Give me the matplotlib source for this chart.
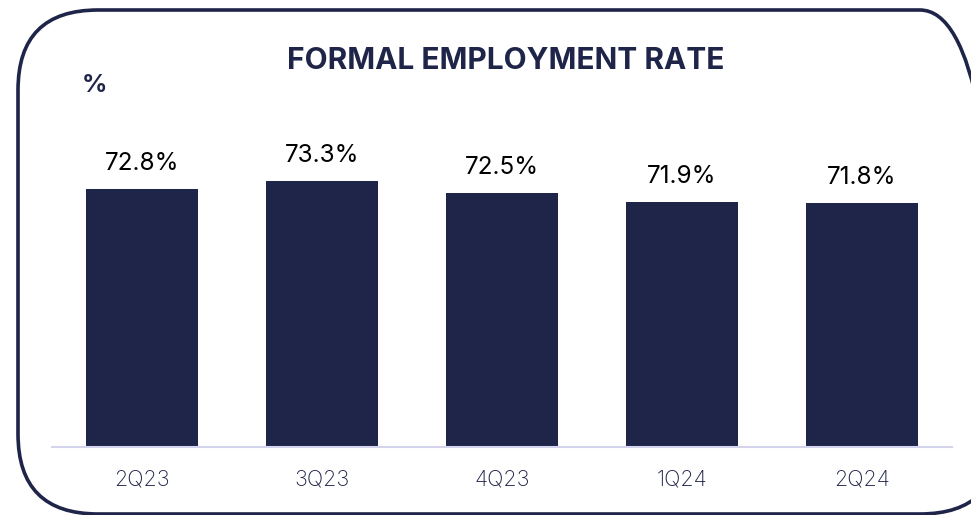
import matplotlib
matplotlib.use("Agg")
import matplotlib.pyplot as plt
from matplotlib.patches import FancyBboxPatch

# Data
quarters = ["2Q23", "3Q23", "4Q23", "1Q24", "2Q24"]
rates = [72.8, 73.3, 72.5, 71.9, 71.8]

NAVY = "#1f2449"
AXIS_LINE = "#d4d5ec"

plt.rcParams['font.family'] = ['Inter', 'DejaVu Sans']

W, H = 971, 515
fig = plt.figure(figsize=(W / 100, H / 100), dpi=100)

# rounded frame (pixel -> inches), right side runs off the canvas
left_px, top_px, right_px, bottom_px = 18, 10, 1000, 514
frame = FancyBboxPatch((left_px / 100, (H - bottom_px) / 100),
                       (right_px - left_px) / 100, (bottom_px - top_px) / 100,
                       boxstyle="round,pad=0,rounding_size=0.8",
                       transform=fig.dpi_scale_trans,
                       fill=False, edgecolor=NAVY, linewidth=2.6)
fig.patches.append(frame)

ax = fig.add_axes([52 / W, (H - 447) / H, 900 / W, (447 - 100) / H])
x = range(len(quarters))
bars = ax.bar(x, rates, width=0.62, color=NAVY, zorder=2)

ax.set_xlim(-0.5, len(quarters) - 0.5)
ax.set_ylim(55, 78.9)

for b, v in zip(bars, rates):
    ax.annotate(f"{v:.1f}%", (b.get_x() + b.get_width() / 2, v),
                xytext=(0, 10), textcoords="offset points",
                ha="center", va="bottom", fontsize=17.5, color="black")

ax.set_xticks(list(x))
ax.set_xticklabels(quarters, fontsize=15.5, color=NAVY, fontweight="light")
ax.tick_params(axis="x", length=0, pad=16)
ax.set_yticks([])
for s in ["top", "right", "left"]:
    ax.spines[s].set_visible(False)
ax.spines["bottom"].set_color(AXIS_LINE)
ax.spines["bottom"].set_linewidth(1.5)

fig.text(506 / W, 1 - 61 / H, "FORMAL EMPLOYMENT RATE", ha="center", va="center",
         fontsize=21.5, fontweight="bold", color=NAVY)
fig.text(82 / W, 1 - 86 / H, "%", ha="left", va="center",
         fontsize=18, fontweight="bold", color=NAVY)

fig.savefig("out.png", dpi=100)
